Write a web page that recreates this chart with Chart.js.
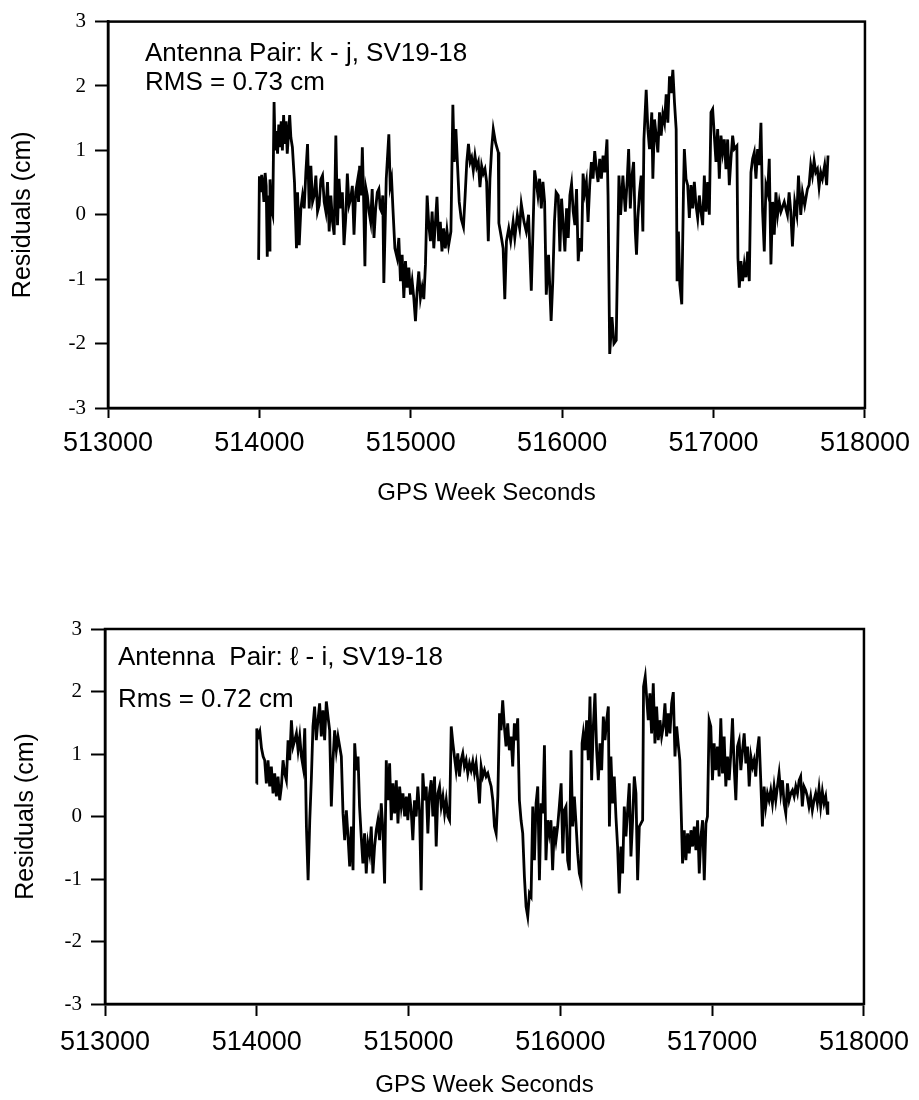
<!DOCTYPE html>
<html>
<head>
<meta charset="utf-8">
<title>Residuals vs GPS Week Seconds</title>
<script src="https://cdn.jsdelivr.net/npm/chart.js@4.4.1/dist/chart.umd.min.js"></script>
<style>
  html, body { margin: 0; padding: 0; background: #fff; }
  #page { position: relative; width: 919px; height: 1100px; }
  canvas { position: absolute; left: 0; }
  #topChart { top: 0; }
  #bottomChart { top: 560px; }
</style>
</head>
<body>
<div id="page">
  <canvas id="topChart" width="919" height="525"></canvas>
  <canvas id="bottomChart" width="919" height="540"></canvas>
</div>
<script>
// ── данные ────────────────────────────────────────────
const xTicks = [513000, 514000, 515000, 516000, 517000, 518000];
const yTicks = [-3, -2, -1, 0, 1, 2, 3];

// пара k - j
const topTimes = [
  513995, 514000, 514008, 514015, 514022, 514030, 514038, 514045, 514052, 514058,
  514064, 514070, 514078, 514088, 514097, 514104, 514112, 514120, 514128, 514136,
  514144, 514152, 514160, 514168, 514176, 514184, 514192, 514200, 514208, 514218,
  514232, 514245, 514252, 514263, 514274, 514285, 514296, 514307, 514318, 514329,
  514340, 514351, 514362, 514373, 514384, 514395, 514406, 514417, 514428, 514439,
  514450, 514461, 514472, 514483, 514494, 514505, 514516, 514526, 514537, 514548,
  514559, 514570, 514581, 514592, 514603, 514614, 514625, 514636, 514647, 514655,
  514662, 514672, 514680, 514688, 514697, 514705, 514713, 514724, 514735, 514745,
  514757, 514768, 514779, 514789, 514798, 514807, 514815, 514822, 514838, 514855,
  514864, 514873, 514882, 514895, 514910, 514921, 514932, 514943, 514954, 514965,
  514976, 514987, 514998, 515009, 515020, 515031, 515042, 515053, 515064, 515075,
  515086, 515097, 515108, 515119, 515130, 515141, 515152, 515163, 515173, 515184,
  515195, 515206, 515217, 515228, 515239, 515250, 515265, 515278, 515287, 515298,
  515309, 515320, 515333, 515348, 515359, 515370, 515381, 515392, 515402, 515413,
  515424, 515435, 515446, 515457, 515468, 515479, 515490, 515501, 515512, 515523,
  515534, 515545, 515560, 515578, 515582, 515599, 515610, 515621, 515632, 515647,
  515660, 515676, 515687, 515704, 515719, 515730, 515748, 515763, 515778, 515796,
  515807, 515818, 515829, 515840, 515851, 515862, 515873, 515884, 515895, 515910,
  515927, 515938, 515949, 515960, 515974, 515985, 515996, 516007, 516018, 516029,
  516040, 516051, 516062, 516073, 516084, 516095, 516106, 516117, 516128, 516138,
  516149, 516160, 516171, 516182, 516193, 516204, 516215, 516226, 516237, 516248,
  516259, 516270, 516281, 516296, 516303, 516314, 516329, 516342, 516357, 516368,
  516375, 516386, 516401, 516417, 516430, 516439, 516450, 516461, 516472, 516483,
  516491, 516500, 516511, 516522, 516533, 516540, 516555, 516566, 516577, 516592,
  516599, 516610, 516621, 516632, 516643, 516654, 516665, 516676, 516687, 516698,
  516709, 516720, 516731, 516742, 516753, 516759, 516768, 516777, 516790, 516801,
  516807, 516818, 516829, 516840, 516851, 516862, 516873, 516884, 516895, 516906,
  516917, 516928, 516939, 516950, 516961, 516972, 516983, 516994, 517005, 517016,
  517027, 517038, 517049, 517060, 517071, 517082, 517093, 517104, 517115, 517126,
  517137, 517154, 517161, 517170, 517181, 517192, 517203, 517214, 517225, 517236,
  517247, 517258, 517269, 517280, 517291, 517302, 517313, 517324, 517335, 517346,
  517357, 517368, 517379, 517390, 517401, 517412, 517423, 517434, 517445, 517467,
  517488, 517499, 517510, 517521, 517536, 517550, 517561, 517576, 517587, 517602,
  517620, 517631, 517642, 517653, 517664, 517675, 517686, 517697, 517708, 517719,
  517734, 517747, 517756
];
const topResiduals = [
  -0.70, 0.60, 0.35, 0.62, 0.50, 0.20, 0.65, 0.45, -0.65, 0.30,
  -0.55, 0.55, 0.10, 0.00, 1.75, 1.00, 1.30, 0.95, 1.40, 1.05,
  1.45, 1.00, 1.55, 1.10, 1.45, 0.95, 1.25, 1.55, 1.20, 1.05,
  0.50, -0.52, 0.35, -0.47, 0.10, 0.30, 0.10, 0.66, 1.10, 0.10,
  0.76, 0.20, 0.30, 0.61, 0.05, 0.15, 0.55, 0.61, 0.20, 0.05,
  0.51, -0.26, 0.30, -0.11, -0.31, 1.23, -0.16, 0.56, 0.10, 0.35,
  -0.47, -0.06, 0.64, 0.15, 0.25, 0.45, -0.31, 0.35, 0.51, 0.20,
  0.76, 0.30, 1.05, 0.30, -0.80, 0.40, 0.30, 0.05, -0.11, 0.40,
  -0.36, 0.10, 0.35, 0.40, 0.10, 0.05, 0.30, -1.06, 0.56, 1.25,
  0.45, 0.56, 0.10, -0.52, -0.67, -0.36, -1.03, -0.62, -1.29, -0.72,
  -1.13, -0.82, -1.24, -1.03, -1.29, -1.65, -1.18, -0.88, -1.29, -1.13,
  -1.31, -0.77, 0.30, -0.16, -0.41, 0.05, -0.52, -0.11, 0.28, -0.41,
  -0.11, -0.57, -0.21, -0.52, -0.24, -0.47, -0.26, 1.71, 0.82, 1.33,
  0.76, 0.20, -0.06, -0.19, 0.30, 0.82, 1.10, 0.82, 0.89, 0.69,
  0.92, 0.74, 0.82, 0.43, 0.76, 0.64, 0.71, 0.51, -0.41, 0.56,
  1.02, 1.33, 1.12, 0.97, -0.13, -0.36, -0.52, -1.31, -0.41, -0.21,
  -0.41, -0.11, -0.36, 0.00, -0.21, 0.17, -0.11, -0.26, 0.00, -1.18,
  -0.26, 0.69, 0.51, 0.30, 0.56, 0.10, 0.51, 0.20, -1.24, -0.62,
  -1.65, -1.03, -0.11, 0.35, 0.30, -0.57, 0.25, -0.16, -0.57, 0.10,
  -0.36, 0.30, 0.48, 0.05, -0.16, 0.40, -0.72, -0.36, -0.57, 0.64,
  0.35, 0.51, -0.11, 0.46, 0.82, 0.56, 0.99, 0.71, 0.51, 0.87,
  0.56, 0.92, 0.66, 1.17, 0.30, -2.16, -1.59, -2.00, -1.95, -0.36,
  0.61, 0.00, 0.61, 0.05, 0.56, 1.02, 0.10, 0.61, 0.82, -0.26,
  -0.62, -0.05, 0.35, 0.61, -0.26, 1.17, 1.94, 1.33, 1.02, 1.59,
  0.56, 1.48, 1.23, 0.97, 1.59, 1.23, 1.56, 1.43, 1.87, 1.43,
  2.15, 1.89, 2.25, 1.74, 1.33, -1.03, -0.26, -1.08, -1.39, 0.35,
  1.02, 0.56, 0.46, -0.05, 0.46, 0.10, 0.51, 0.15, -0.05, 0.30,
  0.05, -0.16, 0.61, 0.05, 0.51, 0.00, 1.59, 1.64, 1.23, 0.82,
  1.33, 0.56, 1.23, 0.97, 1.17, 0.71, 1.17, 0.46, 0.87, 1.23,
  1.02, 1.07, -0.67, -1.13, -0.72, -1.03, -0.77, -0.97, -0.57, -1.03,
  0.66, 0.87, 0.97, 0.56, 1.02, 0.77, 1.43, 0.05, -0.57, 0.46,
  0.35, 0.87, -0.77, 0.20, -0.31, 0.35, 0.00, 0.20, 0.05, 0.20,
  0.00, 0.35, 0.05, -0.49, 0.20, 0.00, 0.61, 0.00, 0.35, 0.15,
  0.40, 0.46, 0.77, 0.61, 0.84, 0.66, 0.71, 0.43, 0.66, 0.56,
  0.77, 0.46, 0.92
];
const topLabels = ['Antenna Pair: k - j, SV19-18', 'RMS = 0.73 cm'];

// пара ℓ - i
const bottomTimes = [
  513998, 514000, 514009, 514020, 514031, 514042, 514052, 514063, 514074, 514085,
  514096, 514107, 514118, 514129, 514140, 514151, 514162, 514173, 514184, 514195,
  514206, 514217, 514228, 514239, 514250, 514261, 514272, 514283, 514294, 514305,
  514316, 514327, 514338, 514349, 514360, 514370, 514381, 514392, 514403, 514414,
  514425, 514436, 514447, 514458, 514469, 514480, 514491, 514502, 514513, 514524,
  514535, 514546, 514557, 514568, 514579, 514590, 514601, 514612, 514623, 514634,
  514645, 514656, 514667, 514677, 514688, 514699, 514710, 514721, 514732, 514743,
  514754, 514765, 514776, 514787, 514798, 514809, 514820, 514831, 514842, 514853,
  514864, 514875, 514886, 514897, 514908, 514919, 514930, 514941, 514952, 514963,
  514974, 514985, 514995, 515006, 515017, 515028, 515039, 515050, 515061, 515072,
  515083, 515094, 515105, 515116, 515127, 515138, 515149, 515160, 515171, 515182,
  515193, 515204, 515215, 515226, 515237, 515248, 515259, 515270, 515281, 515292,
  515302, 515313, 515324, 515335, 515346, 515357, 515368, 515379, 515390, 515401,
  515412, 515423, 515434, 515445, 515456, 515467, 515478, 515489, 515500, 515511,
  515522, 515533, 515544, 515555, 515566, 515577, 515588, 515599, 515609, 515620,
  515631, 515642, 515653, 515664, 515675, 515686, 515697, 515708, 515719, 515730,
  515741, 515752, 515763, 515774, 515785, 515796, 515807, 515818, 515829, 515840,
  515851, 515862, 515873, 515884, 515895, 515905, 515916, 515927, 515938, 515949,
  515960, 515971, 515982, 515993, 516005, 516016, 516026, 516037, 516048, 516059,
  516070, 516081, 516092, 516103, 516114, 516125, 516136, 516143, 516151, 516162,
  516173, 516184, 516195, 516206, 516217, 516228, 516239, 516250, 516261, 516272,
  516283, 516294, 516305, 516316, 516323, 516333, 516344, 516355, 516366, 516377,
  516388, 516399, 516410, 516421, 516432, 516443, 516454, 516465, 516476, 516487,
  516498, 516509, 516520, 516531, 516542, 516548, 516559, 516568, 516579, 516590,
  516601, 516612, 516623, 516634, 516645, 516656, 516667, 516678, 516689, 516700,
  516711, 516722, 516733, 516744, 516755, 516766, 516776, 516787, 516805, 516816,
  516827, 516838, 516849, 516860, 516871, 516882, 516893, 516904, 516915, 516926,
  516937, 516948, 516959, 516969, 516980, 516991, 517002, 517013, 517024, 517035,
  517046, 517057, 517068, 517079, 517090, 517101, 517112, 517123, 517134, 517145,
  517156, 517167, 517178, 517189, 517200, 517211, 517222, 517233, 517244, 517255,
  517266, 517276, 517287, 517298, 517309, 517320, 517331, 517342, 517353, 517364,
  517375, 517386, 517397, 517408, 517419, 517430, 517441, 517452, 517463, 517474,
  517485, 517496, 517507, 517518, 517529, 517540, 517551, 517562, 517573, 517583,
  517594, 517605, 517616, 517627, 517638, 517649, 517660, 517671, 517682, 517693,
  517704, 517715, 517726, 517737, 517748, 517759, 517762
];
const bottomResiduals = [
  0.53, 1.41, 1.28, 1.36, 1.09, 0.96, 0.90, 0.53, 0.90, 0.48,
  0.80, 0.37, 0.69, 0.32, 0.64, 0.26, 0.48, 0.90, 0.69, 0.58,
  1.22, 0.90, 1.54, 1.12, 1.22, 1.33, 1.06, 1.28, 0.96, 0.80,
  1.41, -0.16, -1.02, -0.06, 0.64, 1.44, 1.76, 1.22, 1.54, 1.81,
  1.28, 1.70, 1.22, 1.84, 1.60, 1.38, 0.16, 0.90, 1.38, 1.06,
  1.28, 1.12, 0.96, 0.05, -0.38, 0.10, -0.32, -0.80, -0.16, -0.86,
  1.17, 0.74, 0.96, 0.16, -0.32, -0.75, -0.27, -0.91, -0.43, -0.59,
  -0.16, -0.91, -0.48, -0.22, -0.06, -0.38, 0.21, -0.22, -1.07, 0.90,
  0.26, 0.85, -0.06, 0.53, 0.05, 0.58, -0.11, 0.48, 0.16, 0.37,
  0.00, 0.32, -0.06, 0.37, 0.10, -0.38, 0.26, 0.00, 0.48, 0.10,
  -1.18, 0.69, 0.26, 0.48, -0.27, 0.37, 0.58, 0.00, 0.64, -0.48,
  0.37, 0.48, 0.16, 0.32, 0.05, 0.26, 0.00, -0.06, 1.44, 1.17,
  0.96, 0.74, 1.01, 0.64, 0.90, 1.01, 0.80, 0.90, 0.69, 0.85,
  0.74, 0.88, 0.69, 0.85, 0.58, 0.21, 0.80, 0.64, 0.74, 0.64,
  0.69, 0.58, 0.48, 0.26, -0.16, -0.27, 0.32, 1.65, 1.38, 1.86,
  1.44, 1.12, 1.49, 1.06, 1.28, 0.80, 1.49, 1.22, 1.57, 0.26,
  -0.06, -0.27, -0.96, -1.44, -1.60, -1.23, -1.28, 0.16, -0.70, 0.21,
  0.48, -1.02, 0.21, 0.05, 1.14, -0.70, -0.06, -0.27, -0.06, -0.86,
  -0.16, -0.38, -0.16, 0.16, 0.53, -0.59, 0.10, 0.16, -0.70, -0.86,
  1.06, -0.16, 0.32, -0.11, -0.59, -0.91, -1.02, 1.17, 1.33, 1.06,
  1.54, 0.90, 1.92, 0.58, 1.44, 1.97, 1.06, 0.58, 1.17, 0.74,
  1.60, 1.22, 1.54, 1.76, -0.16, 0.96, 0.21, 0.64, 0.00, -0.48,
  -1.23, -0.48, -0.91, 0.16, -0.32, 0.10, 0.53, -0.64, -0.06, 0.64,
  0.37, -1.02, -0.16, -0.11, -0.06, 2.08, 2.24, 1.92, 1.54, 1.97,
  1.33, 2.13, 1.17, 1.76, 1.22, 1.54, 1.28, 1.44, 1.81, 1.28,
  1.65, 1.33, 1.81, 1.99, 0.96, 1.44, 1.17, 0.90, -0.75, -0.22,
  -0.70, -0.27, -0.59, -0.22, -0.48, -0.16, -0.54, -0.06, -0.91, -0.32,
  -0.06, -1.02, -0.11, 0.00, 1.54, 1.44, 0.58, 1.17, 0.74, 1.12,
  0.64, 1.57, 0.69, 1.28, 0.48, 0.96, 0.58, 1.01, 1.57, 0.80,
  0.26, 1.12, 1.22, 0.74, 1.06, 1.33, 0.85, 1.12, 0.48, 0.96,
  0.80, 0.90, 0.64, 1.06, 1.28, 0.58, -0.16, 0.48, 0.16, 0.37,
  0.26, 0.42, 0.21, 0.48, 0.26, 0.48, 0.69, 0.37, 0.58, 0.21,
  0.05, 0.53, 0.26, 0.37, 0.42, 0.32, 0.48, 0.37, 0.58, 0.64,
  0.16, 0.48, 0.42, 0.32, 0.16, 0.32, 0.10, 0.26, 0.37, 0.21,
  0.45, 0.16, 0.40, 0.21, 0.32, 0.05, 0.24
];
const bottomLabels = ['Antenna  Pair: \u2113 - i, SV19-18', 'Rms = 0.72 cm'];

// ── рамка и подписи внутри графика ───────────────────
const boxPlugin = {
  id: 'box',
  afterDraw(chart, args, opts) {
    const { ctx, chartArea: a } = chart;
    ctx.save();
    ctx.strokeStyle = '#000';
    ctx.lineWidth = 2.5;
    ctx.strokeRect(a.left, a.top, a.right - a.left, a.bottom - a.top);
    ctx.fillStyle = '#000';
    ctx.font = '26px "Liberation Sans", Arial, sans-serif';
    ctx.textBaseline = 'alphabetic';
    ctx.textAlign = 'left';
    opts.lines.forEach((t, i) => ctx.fillText(t, opts.x, opts.y[i]));
    ctx.restore();
  }
};

function makeChart(id, times, residuals, lay) {
  const points = times.map((t, i) => ({ x: t, y: residuals[i] }));
  return new Chart(document.getElementById(id), {
    type: 'scatter',
    data: {
      datasets: [{
        data: points,
        showLine: true,
        borderColor: '#000',
        borderWidth: 2.8,
        pointRadius: 0,
        tension: 0,
      }],
    },
    options: {
      responsive: false,
      animation: false,
      events: [],
      layout: { padding: { top: lay.top, right: lay.right, left: 0, bottom: 0 } },
      plugins: {
        legend: { display: false },
        tooltip: { enabled: false },
        box: { lines: lay.lines, x: lay.textX, y: lay.textY },
      },
      scales: {
        x: {
          type: 'linear',
          min: 513000,
          max: 518000,
          afterBuildTicks: (s) => { s.ticks = xTicks.map((v) => ({ value: v })); },
          afterFit: (s) => { s.height = lay.xHeight; },
          ticks: {
            color: '#000',
            padding: lay.xPad,
            maxRotation: 0,
            font: { family: '"Liberation Sans", Arial, sans-serif', size: 27 },
            callback: (v) => String(v),
          },
          grid: { drawOnChartArea: false, tickLength: lay.xTick, tickWidth: 2, tickColor: '#000' },
          border: { color: '#000', width: 2.5 },
          title: {
            display: true,
            text: 'GPS Week Seconds',
            color: '#000',
            padding: { top: 0, bottom: lay.xTitlePad },
            font: { family: '"Liberation Sans", Arial, sans-serif', size: 24 },
          },
        },
        y: {
          min: -3,
          max: 3,
          afterBuildTicks: (s) => { s.ticks = yTicks.map((v) => ({ value: v })); },
          afterFit: (s) => { s.width = lay.left; },
          ticks: {
            color: '#000',
            padding: 9,
            font: { family: '"Liberation Serif", "Times New Roman", serif', size: 21 },
          },
          grid: { drawOnChartArea: false, tickLength: lay.yTick, tickWidth: 2, tickColor: '#000' },
          border: { color: '#000', width: 2.5 },
          title: {
            display: true,
            text: 'Residuals (cm)',
            color: '#000',
            padding: { top: lay.yTitlePad, bottom: 0 },
            font: { family: '"Liberation Sans", Arial, sans-serif', size: 25 },
          },
        },
      },
    },
    plugins: [boxPlugin],
  });
}

makeChart('topChart', topTimes, topResiduals, {
  top: 18, right: 51, left: 108, xHeight: 117,
  xPad: 9, xTick: 10, yTick: 13, xTitlePad: 17, yTitlePad: 8,
  lines: topLabels, textX: 145, textY: [61, 90],
});
makeChart('bottomChart', bottomTimes, bottomResiduals, {
  top: 69, right: 51, left: 105, xHeight: 96,
  xPad: 10, xTick: 12, yTick: 14, xTitlePad: 0, yTitlePad: 11,
  lines: bottomLabels, textX: 118, textY: [105, 147],
});
</script>
</body>
</html>
